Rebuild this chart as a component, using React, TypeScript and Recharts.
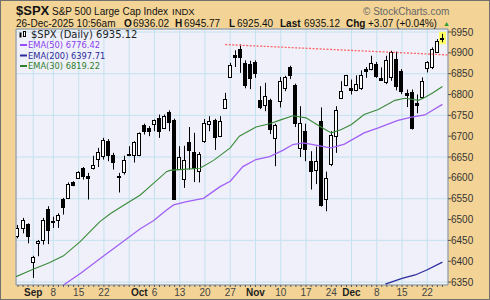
import { Bar, CartesianGrid, ComposedChart, Line, ReferenceArea, XAxis, YAxis } from 'recharts'

// trading days shown on the chart (index = position on the x axis)
const days = [
  'Aug 27', 'Aug 28', 'Aug 29',
  'Sep 2', 'Sep 3', 'Sep 4', 'Sep 5', 'Sep 8', 'Sep 9', 'Sep 10', 'Sep 11', 'Sep 12',
  'Sep 15', 'Sep 16', 'Sep 17', 'Sep 18', 'Sep 19', 'Sep 22', 'Sep 23', 'Sep 24', 'Sep 25', 'Sep 26',
  'Sep 29', 'Sep 30', 'Oct 1', 'Oct 2', 'Oct 3', 'Oct 6', 'Oct 7', 'Oct 8', 'Oct 9', 'Oct 10',
  'Oct 13', 'Oct 14', 'Oct 15', 'Oct 16', 'Oct 17', 'Oct 20', 'Oct 21', 'Oct 22', 'Oct 23', 'Oct 24',
  'Oct 27', 'Oct 28', 'Oct 29', 'Oct 30', 'Oct 31', 'Nov 3', 'Nov 4', 'Nov 5', 'Nov 6', 'Nov 7',
  'Nov 10', 'Nov 11', 'Nov 12', 'Nov 13', 'Nov 14', 'Nov 17', 'Nov 18', 'Nov 19', 'Nov 20', 'Nov 21',
  'Nov 24', 'Nov 25', 'Nov 26', 'Nov 28', 'Dec 1', 'Dec 2', 'Dec 3', 'Dec 4', 'Dec 5',
  'Dec 8', 'Dec 9', 'Dec 10', 'Dec 11', 'Dec 12', 'Dec 15', 'Dec 16', 'Dec 17', 'Dec 18', 'Dec 19',
  'Dec 22', 'Dec 23', 'Dec 24', 'Dec 26',
]

const opens = [
  6461, 6479, 6489, 6399, 6444, 6451, 6526, 6497, 6499, 6549, 6552, 6589, 6600, 6624, 6604, 6624, 6646,
  6652, 6689, 6656, 6605, 6613, 6655, 6656, 6656, 6728, 6720, 6730, 6744, 6720, 6757, 6738, 6621, 6597,
  6686, 6662, 6617, 6688, 6730, 6740, 6700, 6768, 6842, 6896, 6910, 6875, 6873, 6879, 6788, 6775, 6788,
  6696, 6784, 6816, 6866, 6824, 6672, 6712, 6640, 6620, 6736, 6550, 6633, 6700, 6792, 6822, 6816, 6812,
  6815, 6862, 6862, 6874, 6839, 6831, 6842, 6885, 6857, 6804, 6805, 6780, 6793, 6863, 6865, 6901, 6936.02,
]
const highs = [
  6487, 6504, 6491, 6413, 6451, 6504, 6532, 6507, 6515, 6552, 6589, 6592, 6616, 6626, 6612, 6653, 6672,
  6696, 6693, 6660, 6612, 6653, 6676, 6688, 6709, 6730, 6724, 6740, 6752, 6752, 6762, 6742, 6676, 6677,
  6722, 6708, 6662, 6741, 6748, 6742, 6748, 6804, 6876, 6906, 6920, 6882, 6881, 6882, 6820, 6828, 6790,
  6730, 6842, 6845, 6869, 6826, 6772, 6730, 6664, 6675, 6769, 6615, 6712, 6772, 6832, 6847, 6836, 6846,
  6858, 6866, 6893, 6878, 6865, 6893, 6905, 6903, 6861, 6812, 6812, 6800, 6841, 6880, 6913, 6933, 6945.77,
]
const lows = [
  6455, 6467, 6443, 6360, 6412, 6440, 6441, 6480, 6480, 6512, 6549, 6580, 6598, 6596, 6548, 6620, 6626,
  6644, 6640, 6620, 6565, 6608, 6652, 6637, 6652, 6704, 6700, 6712, 6696, 6717, 6712, 6547, 6619, 6576,
  6620, 6590, 6589, 6684, 6712, 6667, 6698, 6766, 6840, 6866, 6852, 6815, 6813, 6840, 6765, 6760, 6705,
  6628, 6769, 6808, 6837, 6722, 6650, 6640, 6572, 6585, 6531, 6520, 6628, 6660, 6790, 6820, 6800, 6808,
  6811, 6840, 6858, 6840, 6833, 6825, 6833, 6810, 6801, 6770, 6716, 6755, 6789, 6853, 6861, 6900, 6925.4,
]
const closes = [
  6479, 6499, 6460, 6411, 6448, 6498, 6476, 6494, 6511, 6530, 6586, 6584, 6613, 6605, 6600, 6630, 6661,
  6692, 6656, 6637, 6603, 6642, 6658, 6685, 6708, 6712, 6713, 6738, 6712, 6749, 6734, 6550, 6650, 6642,
  6667, 6624, 6657, 6732, 6736, 6697, 6736, 6790, 6872, 6889, 6889, 6822, 6840, 6851, 6769, 6796, 6718,
  6727, 6832, 6843, 6846, 6732, 6732, 6670, 6617, 6640, 6535, 6600, 6704, 6764, 6809, 6846, 6810, 6825,
  6848, 6857, 6876, 6845, 6836, 6884, 6901, 6820, 6808, 6800, 6720, 6775, 6833, 6877, 6909, 6929, 6935.12,
]

// moving averages at the given day positions
const ema30At = [-0.4, 3, 6.3, 9, 12.3, 16.2, 18.4, 21, 24.2, 26.8, 29.4, 30.1, 33.4, 36, 38.7, 42, 43.8, 47.1, 49.8, 51.7, 54.4, 57, 59.7, 62, 64, 66, 68.5, 71.3, 74.6, 76.6, 79.2, 80.5, 82.2, 84]
const ema30 = [6363, 6381, 6397, 6413, 6447, 6495, 6515, 6535, 6559, 6587, 6615, 6618, 6621, 6623, 6642, 6672, 6700, 6722, 6730, 6738, 6749, 6744, 6724, 6708, 6716, 6728, 6752, 6764, 6786, 6791, 6786, 6793, 6805, 6819.22]
const ema50At = [9, 12.4, 16.4, 20.2, 24.2, 26.8, 29.4, 30.8, 33.4, 36.7, 40, 42, 44.5, 47.1, 49.8, 52.4, 54.4, 56.4, 58.4, 61, 62, 64.6, 68.5, 71.3, 75.2, 77.9, 80.5, 84]
const ema50 = [6343, 6371, 6408, 6442, 6478, 6497, 6523, 6535, 6543, 6551, 6579, 6592, 6627, 6644, 6651, 6666, 6680, 6684, 6680, 6674, 6672, 6681, 6708, 6720, 6738, 6746, 6751, 6776.42]
const ema200At = [72.7, 76, 78.6, 80.9, 84]
const ema200 = [6345, 6359, 6367, 6379, 6397.71]

const trendAt = [41, 85.1]
const trendVal = [6920, 6895]

const gridDays = [3, 7, 12, 17, 22, 24, 27, 32, 37, 42, 47, 52, 57, 62, 66, 71, 76, 81]
const gridText = ['Sep', '8', '15', '22', '', 'Oct', '6', '13', '20', '27', 'Nov', '10', '17', '24', 'Dec', '8', '15', '22']
const months = ['Sep', 'Oct', 'Nov', 'Dec']
const priceTicks = [6350, 6400, 6450, 6500, 6550, 6600, 6650, 6700, 6750, 6800, 6850, 6900, 6950]

const data = days.map((day, i) => ({
  i,
  day,
  open: opens[i],
  high: highs[i],
  low: lows[i],
  close: closes[i],
  range: [lows[i], highs[i]],
}))

const toLine = (at: number[], vals: number[]) => at.map((i, k) => ({ i, v: vals[k] }))

const SANS = '"Liberation Sans", Arial, sans-serif'
const LEGEND = '"DejaVu Sans", Verdana, sans-serif'

function Candle(props: any) {
  const { x, y, width, height, payload, index } = props
  if (!payload || x == null) return null
  const top0 = Math.min(y, y + height)
  const h = Math.abs(height)
  const { open, close, high, low } = payload
  const k = h / (high - low || 1)
  const at = (v: number) => top0 + (high - v) * k
  const p = Math.floor(x + width / 2)
  const bTop = Math.round(at(Math.max(open, close))) + 0.5
  const bBot = Math.round(at(Math.min(open, close))) + 0.5
  const up = close >= open
  const last = index === days.length - 1
  return (
    <g>
      {last && <rect x={p - 3} y={top0 - 2} width={7} height={h + 4} fill="#ffff66" />}
      <line x1={p + 0.5} x2={p + 0.5} y1={top0} y2={top0 + h} stroke="#000" strokeWidth={1} />
      <rect
        x={p - 1.5}
        y={bTop}
        width={3}
        height={Math.max(bBot - bTop, 1)}
        fill={up ? '#fff' : '#000'}
        stroke="#000"
        strokeWidth={1}
      />
    </g>
  )
}

function DayTick(props: any) {
  const { x, y, payload } = props
  const k = gridDays.indexOf(payload.value)
  const text = k >= 0 ? gridText[k] : ''
  const bold = months.includes(text)
  return (
    <g>
      <line x1={x} x2={x} y1={y} y2={y + 2} stroke="#555" />
      {text && (
        <text
          x={x}
          y={y + 11}
          textAnchor="middle"
          fontSize={10}
          fontFamily={SANS}
          fontWeight={bold ? 700 : 400}
          fill={bold ? '#222' : '#444'}
        >
          {text}
        </text>
      )}
    </g>
  )
}

function Header() {
  const t = { fontFamily: SANS, fontSize: 10, fill: '#111' }
  return (
    <svg width={490} height={300} style={{ position: 'absolute', left: 0, top: 0, pointerEvents: 'none' }}>
      <text x={16} y={15} fontFamily={SANS} fontSize={13} fontWeight={700} fill="#111">$SPX</text>
      <text x={52} y={15} {...t}>S&amp;P 500 Large Cap Index</text>
      <text x={172} y={15} {...t} fontSize={9.5}>INDX</text>
      <text x={363} y={15} {...t} fill="#666">© StockCharts.com</text>

      <text x={16} y={27} {...t}>26-Dec-2025 10:56am</text>
      <text x={124} y={27} {...t} fontWeight={700}>O</text>
      <text x={133} y={27} {...t}>6936.02</text>
      <text x={175} y={27} {...t} fontWeight={700}>H</text>
      <text x={184} y={27} {...t}>6945.77</text>
      <text x={229} y={27} {...t} fontWeight={700}>L</text>
      <text x={237} y={27} {...t}>6925.40</text>
      <text x={280} y={27} {...t} fontWeight={700}>Last</text>
      <text x={304} y={27} {...t}>6935.12</text>
      <text x={346} y={27} {...t} fontWeight={700}>Chg</text>
      <text x={368} y={27} {...t}>+3.07 (+0.04%)</text>
      <text x={443} y={26} fontSize={7} fill="#2a9a2a" fontFamily={SANS}>▲</text>

      <rect x={19.5} y={32.5} width={2} height={5} fill="#000" />
      <rect x={23.5} y={31.5} width={2} height={5} fill="#fff" stroke="#000" />
      <text x={31} y={38} fontFamily={LEGEND} fontSize={10} fill="#222">$SPX (Daily) 6935.12</text>

      <rect x={20} y={44} width={7} height={2} fill="#9a4dff" />
      <text x={28} y={48} fontFamily={LEGEND} fontSize={8.3} fill="#8a3ef0">EMA(50) 6776.42</text>
      <rect x={20} y={54.5} width={7} height={2} fill="#2b2b9b" />
      <text x={28} y={58.5} fontFamily={LEGEND} fontSize={8.3} fill="#2b2b9b">EMA(200) 6397.71</text>
      <rect x={20} y={65} width={7} height={2} fill="#2f7f2f" />
      <text x={28} y={69} fontFamily={LEGEND} fontSize={8.3} fill="#2f7f2f">EMA(30) 6819.22</text>
    </svg>
  )
}

export default function App() {
  return (
    <div
      style={{
        position: 'absolute',
        left: 0,
        top: 0,
        width: 490,
        height: 300,
        background: '#f3d496',
        overflow: 'hidden',
      }}
    >
      <ComposedChart width={490} height={300} data={data} margin={{ top: 29, right: 0, bottom: 0, left: 16 }}>
        <XAxis
          xAxisId="grid"
          type="number"
          dataKey="i"
          domain={[-0.4, 85.1]}
          ticks={gridDays}
          allowDataOverflow
          hide
        />
        <XAxis
          type="number"
          dataKey="i"
          domain={[-0.4, 85.1]}
          ticks={data.map((d) => d.i)}
          interval={0}
          allowDataOverflow
          height={15}
          tickSize={0}
          tickMargin={0}
          tickLine={false}
          axisLine={false}
          tick={<DayTick />}
        />
        <YAxis
          orientation="right"
          type="number"
          domain={[6343, 6957.2]}
          ticks={priceTicks}
          allowDataOverflow
          width={42}
          tickSize={3}
          tickMargin={0}
          axisLine={false}
          tickLine={{ stroke: '#555' }}
          tick={{ fontSize: 10, fill: '#333', fontFamily: SANS }}
        />
        <CartesianGrid xAxisId="grid" fill="#eff0f9" stroke="#c4e2ef" strokeWidth={1} />
        <Line
          data={toLine(ema50At, ema50)}
          dataKey="v"
          stroke="#a160f5"
          strokeWidth={1.3}
          dot={false}
          isAnimationActive={false}
        />
        <Line
          data={toLine(ema200At, ema200)}
          dataKey="v"
          stroke="#2b2b9b"
          strokeWidth={1.3}
          dot={false}
          isAnimationActive={false}
        />
        <Line
          data={toLine(ema30At, ema30)}
          dataKey="v"
          stroke="#3a8a3a"
          strokeWidth={1.1}
          dot={false}
          isAnimationActive={false}
        />
        <Bar dataKey="range" barSize={4} shape={<Candle />} isAnimationActive={false} />
        <Line
          data={toLine(trendAt, trendVal)}
          dataKey="v"
          stroke="#ff4d4d"
          strokeWidth={1.3}
          strokeDasharray="2 1.5"
          strokeOpacity={0.85}
          dot={false}
          isAnimationActive={false}
        />
        <ReferenceArea
          x1={-0.4}
          x2={85.1}
          y1={6343}
          y2={6957.2}
          fill="none"
          stroke="#8a8a8a"
          ifOverflow="visible"
        />
      </ComposedChart>
      <Header />
      <div
        style={{
          position: 'absolute',
          inset: 0,
          border: '1px solid #707070',
          pointerEvents: 'none',
        }}
      />
    </div>
  )
}
